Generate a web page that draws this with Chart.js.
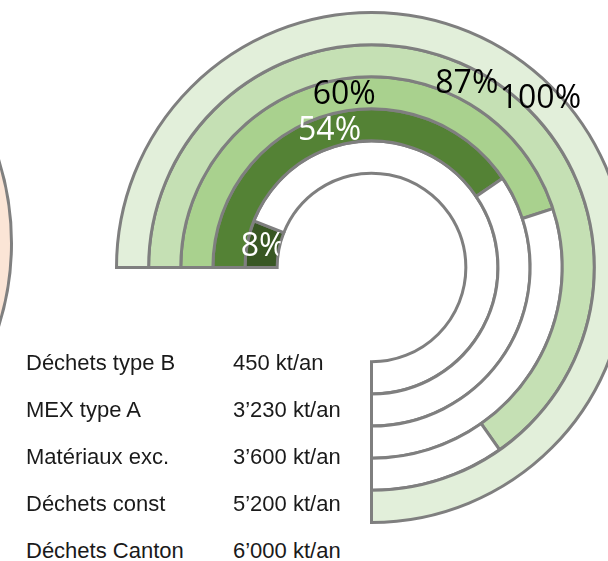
<!DOCTYPE html>
<html>
<head>
<meta charset="utf-8">
<script src="https://cdn.jsdelivr.net/npm/chart.js@4/dist/chart.umd.min.js"></script>
<style>
  html, body { margin: 0; padding: 0; width: 608px; height: 561px; overflow: hidden; background: #ffffff; }
  #blob { position: absolute; left: -543px; top: -35px; width: 556px; height: 556px; border-radius: 50%;
          background: #FBE5D6; border: 3px solid #808080; box-sizing: border-box; }
  #wrap { position: absolute; left: 115px; top: 11px; width: 513px; height: 513px; }
  .row { position: absolute; font-family: "Liberation Sans", Arial, sans-serif; font-size: 22px; line-height: 22px;
         color: #1a1a1a; white-space: pre; }
</style>
</head>
<body>
<div id="blob"></div>
<div id="wrap"><canvas id="c" width="513" height="513"></canvas></div>
<div id="rows"></div>
<script>
// ---- data (outer ring first) ----
const categories = ["Déchets Canton", "Déchets const", "Matériaux exc.", "MEX type A", "Déchets type B"];
const volumes = [6000, 5200, 3600, 3230, 450];   // kt/an
const shares = [100, 87, 60, 54, 8];             // % of canton total
const unit = "kt/an";

// ---- style ----
const ringColors = ["#E2EFDA", "#C5E0B4", "#A9D18E", "#548235", "#385723"];
const labelColors = ["#000000", "#000000", "#000000", "#ffffff", "#ffffff"];

function fmt(v) { return String(v).replace(/\B(?=(\d{3})+(?!\d))/g, "\u2019"); }

// text rows (innermost category at top)
const rows = document.getElementById("rows");
const order = categories.map((_, i) => i).reverse();
order.forEach((idx, r) => {
  const top = 352 + 47 * r;
  const a = document.createElement("div");
  a.className = "row"; a.style.left = "26px"; a.style.top = top + "px";
  a.textContent = categories[idx];
  const b = document.createElement("div");
  b.className = "row"; b.style.left = "233px"; b.style.top = top + "px";
  b.textContent = fmt(volumes[idx]) + " " + unit;
  rows.appendChild(a); rows.appendChild(b);
});

const labelPlugin = {
  id: "ringLabels",
  afterDatasetsDraw(chart) {
    const ctx = chart.ctx;
    const n = chart.data.datasets.length;
    const innerMeta = chart.getDatasetMeta(n - 1).data[0];
    ctx.save();
    // keep labels out of the central hole
    ctx.beginPath();
    ctx.rect(0, 0, chart.width, chart.height);
    ctx.arc(innerMeta.x, innerMeta.y, innerMeta.innerRadius, 0, Math.PI * 2, true);
    ctx.clip("evenodd");
    ctx.font = "32px 'Open Sans', sans-serif";
    ctx.textAlign = "center";
    ctx.textBaseline = "middle";
    chart.data.datasets.forEach((ds, i) => {
      const arc = chart.getDatasetMeta(i).data[0];
      const p = arc.tooltipPosition();
      ctx.fillStyle = labelColors[i];
      ctx.fillText(shares[i] + "%", p.x, p.y);
    });
    ctx.restore();
  }
};

new Chart(document.getElementById("c"), {
  type: "doughnut",
  data: {
    labels: ["part", "reste"],
    datasets: categories.map((name, i) => ({
      label: name,
      data: [shares[i], 100 - shares[i]],
      backgroundColor: [ringColors[i], "#ffffff"],
      borderColor: "#7f7f7f",
      borderWidth: 3,
      borderJoinStyle: "miter"
    }))
  },
  options: {
    responsive: false,
    animation: false,
    rotation: -90,
    circumference: 270,
    cutout: "37%",
    layout: { padding: 0 },
    plugins: { legend: { display: false }, tooltip: { enabled: false } },
    events: []
  },
  plugins: [labelPlugin]
});
</script>
</body>
</html>
